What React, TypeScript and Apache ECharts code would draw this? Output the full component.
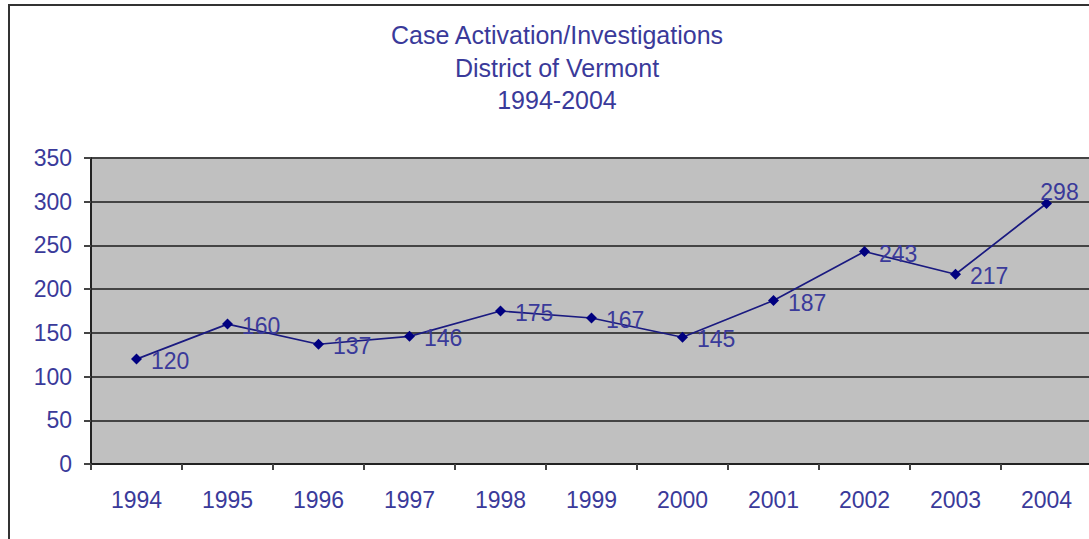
import React, { useEffect, useRef } from "react";
import * as echarts from "echarts";

const titleLines = ["Case Activation/Investigations", "District of Vermont", "1994-2004"];
const years = ["1994", "1995", "1996", "1997", "1998", "1999", "2000", "2001", "2002", "2003", "2004"];
const cases = [120, 160, 137, 146, 175, 167, 145, 187, 243, 217, 298];
const yTicks = { min: 0, max: 350, interval: 50 };

const FONT = "'Liberation Sans', Arial, sans-serif";
const TEXT_COLOR = "#3a3a9a";

export default function App() {
  const ref = useRef<HTMLDivElement>(null);
  useEffect(() => {
    if (!ref.current) return;
    const chart = echarts.init(ref.current, undefined, { renderer: "svg" });
    const last = cases.length - 1;
    chart.setOption({
      animation: false,
      backgroundColor: "#ffffff",
      title: {
        text: titleLines.join("\n"),
        left: 552,
        top: 14,
        textAlign: "center",
        textStyle: {
          fontFamily: FONT,
          fontSize: 25,
          fontWeight: "normal",
          color: TEXT_COLOR,
          lineHeight: 32.5,
        },
      },
      graphic: [
        {
          type: "rect",
          shape: { x: 9, y: 5, width: 1300, height: 700 },
          style: { fill: "none", stroke: "#333", lineWidth: 2 },
          silent: true,
          z: 100,
        },
      ],
      grid: {
        left: 91,
        top: 158,
        bottom: 75,
        right: 8,
        show: true,
        backgroundColor: "#c0c0c0",
        borderWidth: 0,
      },
      xAxis: {
        type: "category",
        data: years,
        boundaryGap: true,
        axisLine: { show: true, lineStyle: { color: "#222", width: 2 } },
        axisTick: { show: true, length: 6, lineStyle: { color: "#444", width: 2 } },
        axisLabel: { fontFamily: FONT, fontSize: 23, color: TEXT_COLOR, margin: 24 },
        splitLine: { show: false },
      },
      yAxis: {
        type: "value",
        min: yTicks.min,
        max: yTicks.max,
        interval: yTicks.interval,
        axisLine: { show: true, lineStyle: { color: "#222", width: 2 } },
        axisTick: { show: true, length: 7, lineStyle: { color: "#444", width: 2 } },
        axisLabel: { fontFamily: FONT, fontSize: 23, color: TEXT_COLOR, margin: 19 },
        splitLine: { show: true, lineStyle: { color: "#444", width: 2 } },
      },
      series: [
        {
          type: "line",
          data: cases.map((v, i) =>
            i === last
              ? { value: v, label: { position: "top", offset: [13, 15] } }
              : v
          ),
          symbol: "diamond",
          symbolSize: 11,
          itemStyle: { color: "#000080" },
          lineStyle: { color: "#1a1a80", width: 1.7 },
          label: {
            show: true,
            position: "right",
            distance: 9,
            offset: [0, 2],
            fontFamily: FONT,
            fontSize: 23,
            color: TEXT_COLOR,
          },
        },
      ],
    });
    return () => chart.dispose();
  }, []);
  return (
    <div
      style={{
        position: "fixed",
        left: 0,
        top: 0,
        width: 1089,
        height: 539,
        overflow: "hidden",
        background: "#fff",
      }}
    >
      <div ref={ref} style={{ width: 1100, height: 539 }} />
    </div>
  );
}
